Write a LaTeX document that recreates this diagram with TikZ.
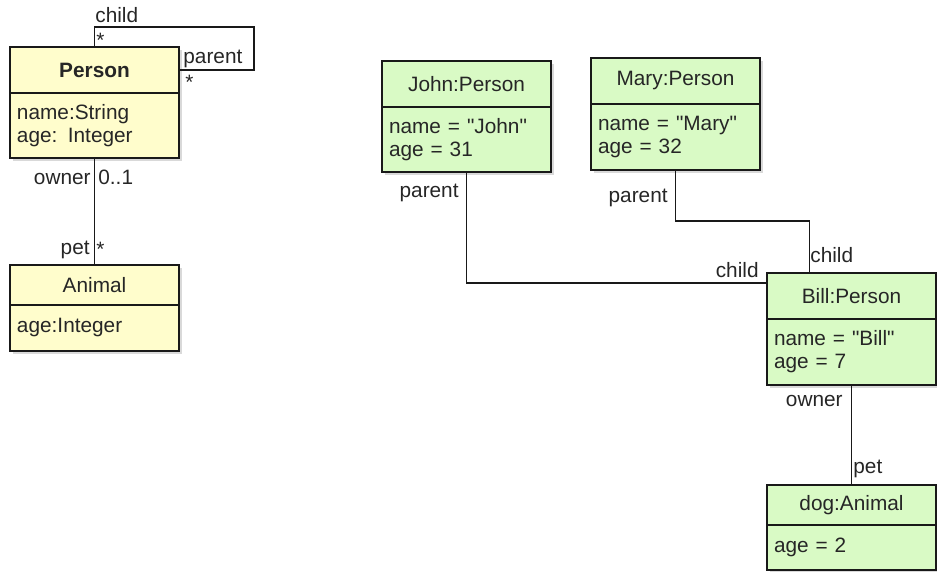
\documentclass[tikz,border=0pt]{standalone}
\usepackage{fontspec}
\setmainfont{Liberation Sans}[Ligatures=TeXOff]
\usepackage{xcolor}
\usepackage{tikz}
\usetikzlibrary{positioning}
\usetikzlibrary{shadows}
\definecolor{clsfill}{RGB}{255,253,204}
\definecolor{objfill}{RGB}{217,250,197}
\tikzset{
  box/.style = {rectangle, draw=black!90, line width=0.9pt, outer sep=0pt,
    inner xsep=3.5pt, text width=77.5pt, minimum width=84.5pt, text=black!85,
    drop shadow={shadow xshift=1.3pt, shadow yshift=-1.3pt, opacity=.3}},
  cls_head/.style = {box, fill=clsfill, align=center},% class, name part
  cls_attr/.style = {box, fill=clsfill, align=left},% class, attributes
  obj_head/.style = {box, fill=objfill, align=center},% object, name part
  obj_attr/.style = {box, fill=objfill, align=left},% object, slots
  lbl/.style = {inner sep=0pt, text=black!85},% role or multiplicity
  link/.style = {draw=black!90, line width=0.6pt}
}

\begin{document}
\begin{tikzpicture}[x=0.5pt,y=-0.5pt,font=\fontsize{10.4}{11.5}\selectfont]
\useasboundingbox (0,0) rectangle (937,572);

% class diagram
\node [cls_head, minimum height=23pt, anchor=north west] (person) at (10,47) {\bfseries Person};
\node [cls_attr, minimum height=32.5pt, below=0pt of person] (person-attr) {name:String\\age: Integer};
\node [cls_head, minimum height=20pt, anchor=north west] (animal) at (10,265) {Animal};
\node [cls_attr, minimum height=23pt, below=0pt of animal] (animal-attr) {age:Integer};

\coordinate (loop) at (254,27);
\draw [link] (person.north) |- (loop) |- (person.east);
\draw [link] (person-attr.south) -- (animal.north);

\node [lbl, anchor=base west] at (95,23) {child};
\node [lbl, anchor=base west] at (96,48) {*};
\node [lbl, anchor=base west] at (183,64) {parent};
\node [lbl, anchor=base west] at (185,90) {*};
\node [lbl, anchor=base east] at (91,185) {owner};
\node [lbl, anchor=base west] at (98,185) {0..1};
\node [lbl, anchor=base east] at (90,255) {pet};
\node [lbl, anchor=base west] at (96,257) {*};

% object diagram
\node [obj_head, minimum height=23pt, anchor=north west] (john) at (382,61) {John:Person};
\node [obj_attr, minimum height=32.5pt, below=0pt of john] (john-attr) {name = "John"\\age = 31};
\node [obj_head, minimum height=23pt, anchor=north west] (mary) at (591,58) {Mary:Person};
\node [obj_attr, minimum height=33pt, below=0pt of mary] (mary-attr) {name = "Mary"\\age = 32};
\node [obj_head, minimum height=23pt, anchor=north west] (bill) at (767,273) {Bill:Person};
\node [obj_attr, minimum height=33pt, below=0pt of bill] (bill-attr) {name = "Bill"\\age = 7};
\node [obj_head, minimum height=20pt, anchor=north west] (dog) at (767,485) {dog:Animal};
\node [obj_attr, minimum height=22.5pt, below=0pt of dog] (dog-attr) {age = 2};

\draw [link] (john-attr.south) |- ([yshift=6.5pt]bill.west);
\draw [link] (mary-attr.south) -- ++(0,51) -| ([xshift=-21pt]bill.north);
\draw [link] (bill-attr.south) -- (dog.north);

\node [lbl, anchor=base east] at (459,198) {parent};
\node [lbl, anchor=base east] at (668,203) {parent};
\node [lbl, anchor=base west] at (810,263) {child};
\node [lbl, anchor=base east] at (759,278) {child};
\node [lbl, anchor=base east] at (843,406) {owner};
\node [lbl, anchor=base west] at (853,473) {pet};
\end{tikzpicture}
\end{document}
